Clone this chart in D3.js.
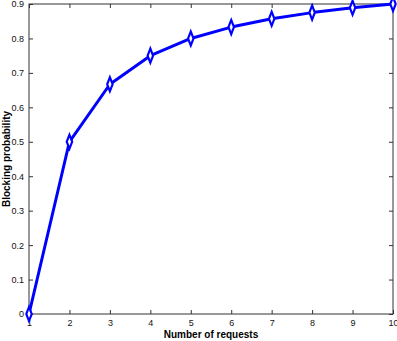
<!DOCTYPE html>
<html><head><meta charset="utf-8">
<script src="https://cdn.jsdelivr.net/npm/d3@7"></script>
<style>body{margin:0;background:#fff}svg{display:block}text{font-family:"Liberation Sans",Arial,sans-serif}</style>
</head><body>
<script>
const requests = [1,2,3,4,5,6,7,8,9,10];
const blocking = [0,0.5,0.667,0.75,0.8,0.833,0.857,0.875,0.889,0.9];
const xTicks = [1,2,3,4,5,6,7,8,9,10];
const yTicks = [0,0.1,0.2,0.3,0.4,0.5,0.6,0.7,0.8,0.9];

const W=397,H=341, m={l:29,r:4,t:4,b:27};
const svg=d3.select("body").append("svg").attr("width",W).attr("height",H);
const x=d3.scaleLinear().domain([1,10]).range([m.l,W-m.r]);
const y=d3.scaleLinear().domain([0,0.9]).range([H-m.b,m.t]);
const g=svg.append("g");
const axc="#333";
// box
g.append("rect").attr("x",x(1)).attr("y",y(0.9)).attr("width",x(10)-x(1)).attr("height",y(0)-y(0.9))
 .attr("fill","none").attr("stroke",axc).attr("stroke-width",1);
const tl=4;
const bx=svg.append("g").attr("transform",`translate(0,${y(0)})`).call(d3.axisBottom(x).tickValues(xTicks).tickSize(-tl).tickFormat(d3.format("d")));
const tx=svg.append("g").attr("transform",`translate(0,${y(0.9)})`).call(d3.axisTop(x).tickValues(xTicks).tickSize(-tl).tickFormat(""));
const ly=svg.append("g").attr("transform",`translate(${x(1)},0)`).call(d3.axisLeft(y).tickValues(yTicks).tickSize(-tl).tickFormat(d=>d===0?"0":d3.format(".1f")(d)));
const ry=svg.append("g").attr("transform",`translate(${x(10)},0)`).call(d3.axisRight(y).tickValues(yTicks).tickSize(-tl).tickFormat(""));
[bx,tx,ly,ry].forEach(a=>{a.select(".domain").remove();a.selectAll("line").attr("stroke",axc);a.selectAll("text").attr("font-size",9).attr("fill","#111").style("font-family","'Liberation Sans',Arial,sans-serif");});
bx.selectAll("text").attr("dy","1.0em");
ly.selectAll("text").attr("dx","-2");
// line
const line=d3.line().x((d,i)=>x(requests[i])).y(d=>y(d));
svg.append("path").datum(blocking).attr("d",line).attr("fill","none").attr("stroke","#0000ff").attr("stroke-width",3).attr("stroke-linejoin","round");
const dia=d3.symbol().type(d3.symbolDiamond).size(40);
svg.selectAll(".mk").data(blocking).enter().append("path")
 .attr("transform",(d,i)=>`translate(${x(requests[i])},${y(d)}) scale(0.8,1.2)`)
 .attr("d",dia).attr("fill","#fff").attr("stroke","#0000ff").attr("stroke-width",2.5);
svg.append("text").attr("x",(x(1)+x(10))/2).attr("y",338).attr("text-anchor","middle").attr("font-size",10).attr("font-weight","bold").text("Number of requests");
svg.append("text").attr("transform",`translate(10,${(y(0)+y(0.9))/2}) rotate(-90)`).attr("text-anchor","middle").attr("font-size",10).attr("font-weight","bold").text("Blocking probability");
</script>
</body></html>
